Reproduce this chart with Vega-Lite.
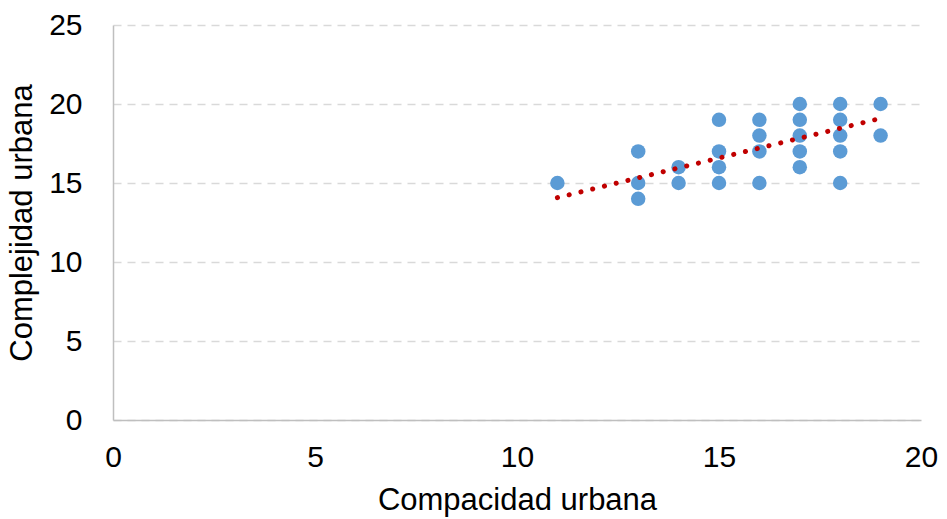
{
  "$schema": "https://vega.github.io/schema/vega-lite/v6.json",
  "width": 808,
  "height": 395,
  "autosize": {"type": "none"},
  "padding": {"left": 113, "top": 25, "right": 26, "bottom": 99},
  "background": "white",
  "config": {
    "font": "Liberation Sans",
    "view": {"stroke": null},
    "axis": {"labelFont": "Liberation Sans", "titleFont": "Liberation Sans", "labelColor": "#000000", "titleColor": "#000000", "titleFontWeight": "normal"}
  },
  "datasets": {
    "pts": [
      {"x": 11, "y": 15}, {"x": 13, "y": 17}, {"x": 13, "y": 15}, {"x": 13, "y": 14},
      {"x": 14, "y": 16}, {"x": 14, "y": 15},
      {"x": 15, "y": 19}, {"x": 15, "y": 17}, {"x": 15, "y": 16}, {"x": 15, "y": 15},
      {"x": 16, "y": 19}, {"x": 16, "y": 18}, {"x": 16, "y": 17}, {"x": 16, "y": 15},
      {"x": 17, "y": 20}, {"x": 17, "y": 19}, {"x": 17, "y": 18}, {"x": 17, "y": 17}, {"x": 17, "y": 16},
      {"x": 18, "y": 20}, {"x": 18, "y": 19}, {"x": 18, "y": 18}, {"x": 18, "y": 17}, {"x": 18, "y": 15},
      {"x": 19, "y": 20}, {"x": 19, "y": 18}
    ],
    "trend": [{"x": 11, "y": 14.07}, {"x": 19, "y": 19.09}]
  },
  "layer": [
    {
      "data": {"name": "pts"},
      "mark": {"type": "circle", "size": 210, "color": "#5b9bd5", "opacity": 1},
      "encoding": {
        "x": {
          "field": "x", "type": "quantitative",
          "scale": {"domain": [0, 20], "nice": false},
          "axis": {
            "title": "Compacidad urbana", "titleFontSize": 31, "titlePadding": 13,
            "values": [0, 5, 10, 15, 20], "labelFontSize": 30, "labelPadding": 22,
            "ticks": false, "grid": false, "domainColor": "#bfbfbf", "domainWidth": 1.5,
            "labelFlush": false
          }
        },
        "y": {
          "field": "y", "type": "quantitative",
          "scale": {"domain": [0, 25], "nice": false},
          "axis": {
            "title": "Complejidad urbana", "titleFontSize": 31, "titlePadding": 10,
            "values": [0, 5, 10, 15, 20, 25], "labelFontSize": 30, "labelPadding": 31,
            "ticks": false, "grid": true, "gridColor": "#d9d9d9", "gridDash": [8, 6], "gridWidth": 1.5,
            "domainColor": "#bfbfbf", "domainWidth": 1.5
          }
        }
      }
    },
    {
      "data": {"name": "trend"},
      "mark": {"type": "line", "color": "#c00000", "strokeWidth": 5, "strokeCap": "round", "strokeDash": [0.1, 12]},
      "encoding": {
        "x": {"field": "x", "type": "quantitative"},
        "y": {"field": "y", "type": "quantitative"}
      }
    }
  ]
}
